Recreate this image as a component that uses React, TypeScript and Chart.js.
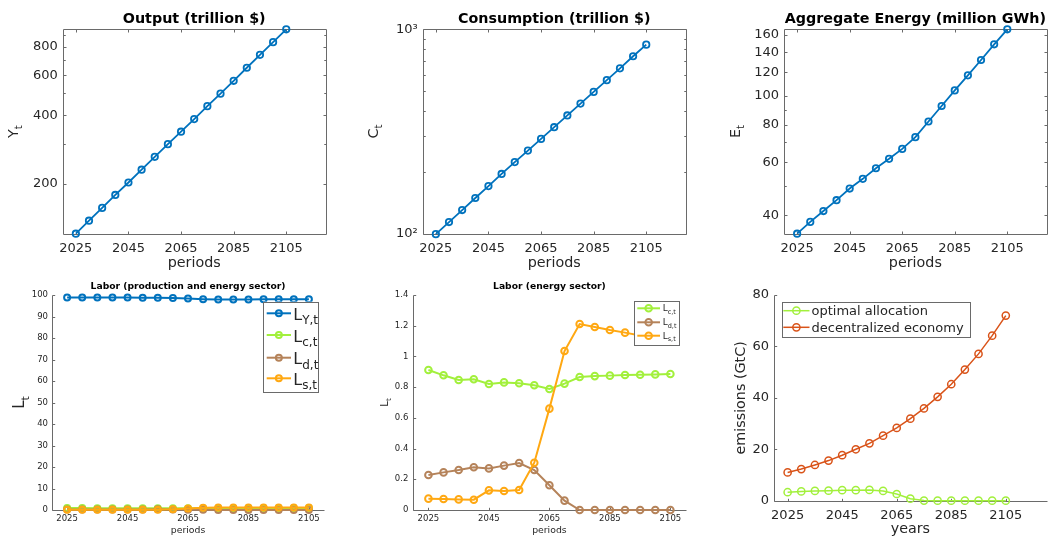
import React, { useEffect, useRef } from 'react';
import { Chart, registerables } from 'chart.js';

Chart.register(...registerables);

const W = 1052;
const H = 540;
const FONT = '"DejaVu Sans", sans-serif';
const AX = '#262626';
const AXLINE = '#6a6a6a';

// ---------- data ----------
const YEARS = [2025, 2030, 2035, 2040, 2045, 2050, 2055, 2060, 2065, 2070, 2075, 2080, 2085, 2090, 2095, 2100, 2105];
const X_TICKS = [2025, 2045, 2065, 2085, 2105];

const OUTPUT = [121, 138, 157, 179, 203, 231, 263, 299, 339, 385, 439, 498, 567, 647, 737, 838, 954];
const CONSUMPTION = [99.5, 114, 130.5, 149.5, 171, 196, 224, 255, 291, 332, 379, 433, 494, 564, 644, 738, 841];
const ENERGY = [34.7, 38.0, 41.3, 44.9, 49.1, 52.9, 57.4, 61.7, 66.6, 72.9, 82.2, 92.6, 104.4, 117.2, 131.9, 148.8, 167];

const L_Y = [98.79, 98.81, 98.82, 98.8, 98.78, 98.76, 98.74, 98.62, 98.39, 98.08, 97.92, 97.94, 97.95, 97.97, 97.98, 98.0, 98.01];
const L_C = [0.912, 0.877, 0.847, 0.851, 0.82, 0.831, 0.825, 0.812, 0.788, 0.823, 0.866, 0.872, 0.875, 0.879, 0.881, 0.883, 0.886];
const L_D = [0.228, 0.245, 0.26, 0.278, 0.271, 0.289, 0.306, 0.26, 0.161, 0.061, 0, 0, 0, 0, 0, 0, 0];
const L_S = [0.074, 0.072, 0.069, 0.067, 0.128, 0.124, 0.13, 0.308, 0.66, 1.035, 1.211, 1.192, 1.172, 1.155, 1.137, 1.122, 1.107];

const EM_OPTIMAL = [3.3, 3.6, 3.8, 3.9, 4.1, 4.1, 4.2, 3.8, 2.6, 0.8, 0.05, 0.02, 0.01, 0, 0, 0, 0];
const EM_DECENTRAL = [11.0, 12.3, 13.9, 15.6, 17.7, 20.0, 22.3, 25.3, 28.3, 31.9, 35.9, 40.4, 45.3, 51.0, 57.1, 64.2, 72.0];

const OUTPUT_TICKS = [200, 400, 600, 800];
const OUTPUT_MINOR = [300, 500, 700, 900];
const CONS_TICKS = [100, 1000];
const CONS_LABELS = ['10²', '10³'];
const CONS_MINOR = [200, 300, 400, 500, 600, 700, 800, 900];
const ENERGY_TICKS = [40, 60, 80, 100, 120, 140, 160];
const ENERGY_MINOR = [50, 70, 90];
const LAB_TICKS = [0, 10, 20, 30, 40, 50, 60, 70, 80, 90, 100];
const LABE_TICKS = [0, 0.2, 0.4, 0.6, 0.8, 1, 1.2, 1.4];
const EM_TICKS = [0, 20, 40, 60, 80];

const BLUE = '#0072BD';
const LIME = '#a2f03c';
const BROWN = '#b5835a';
const ORANGE = '#ffa812';
const RED = '#D95319';

// ---------- types ----------
type Area = { l: number; t: number; r: number; b: number };
type DS = { main: string; sub?: string; data: number[]; color: string; width: number; radius: number };
type Legend = { l: number; t: number; r: number; b: number; rows: number[]; x0: number; x1: number; tx: number; size: number; subSize: number; dy: number; subDy: number };
type Panel = {
  area: Area;
  xMin: number; xMax: number;
  yType: 'linear' | 'logarithmic';
  yMin: number; yMax: number;
  yTicks: number[]; yLabels: string[]; yMinor?: number[];
  box: boolean;
  tickFont: number; tickLen: number; xPad: number; yPad: number;
  title: string; titleSize: number; titleY: number;
  xlabel: string; labelSize: number; xlabelY: number;
  ylabel: [string, string]; ylabelSize: number; ylabelX: number;
  datasets: DS[];
  legend?: Legend;
};

function drawSub(ctx: CanvasRenderingContext2D, x: number, y: number, main: string, sub: string, size: number, subSize: number, subDy: number, align: 'left' | 'center', color: string) {
  ctx.fillStyle = color;
  ctx.textBaseline = 'alphabetic';
  ctx.textAlign = 'left';
  ctx.font = `${size}px ${FONT}`;
  const wm = ctx.measureText(main).width;
  ctx.font = `${subSize}px ${FONT}`;
  const ws = sub ? ctx.measureText(sub).width : 0;
  const x0 = align === 'center' ? x - (wm + ws) / 2 : x;
  ctx.font = `${size}px ${FONT}`;
  ctx.fillText(main, x0, y);
  if (sub) {
    ctx.font = `${subSize}px ${FONT}`;
    ctx.fillText(sub, x0 + wm, y + subDy);
  }
}

const crisp = (v: number) => Math.round(v) + 0.5;

function makePlugin(p: Panel) {
  return {
    id: 'matlabLook',
    beforeDatasetsDraw(chart: any) {
      const ctx: CanvasRenderingContext2D = chart.ctx;
      const { left, right, top, bottom } = chart.chartArea;
      const xs = chart.scales.x;
      const ys = chart.scales.y;
      ctx.save();
      ctx.strokeStyle = AXLINE;
      ctx.lineWidth = 1;
      ctx.beginPath();
      const L = crisp(left), R = crisp(right), T = crisp(top), B = crisp(bottom);
      ctx.moveTo(L, T); ctx.lineTo(L, B); ctx.lineTo(R, B);
      if (p.box) { ctx.lineTo(R, T); ctx.lineTo(L, T); }
      const tl = p.tickLen;
      X_TICKS.forEach((v) => {
        const px = crisp(xs.getPixelForValue(v));
        ctx.moveTo(px, B); ctx.lineTo(px, B - tl);
        if (p.box) { ctx.moveTo(px, T); ctx.lineTo(px, T + tl); }
      });
      const yAll = p.yTicks.concat(p.yMinor || []);
      yAll.forEach((v) => {
        if (v < p.yMin || v > p.yMax) return;
        const py = crisp(ys.getPixelForValue(v));
        const len = p.yTicks.includes(v) ? tl : tl * 0.75;
        ctx.moveTo(L, py); ctx.lineTo(L + len, py);
        if (p.box) { ctx.moveTo(R, py); ctx.lineTo(R - len, py); }
      });
      ctx.stroke();
      ctx.restore();
    },
    afterDatasetsDraw(chart: any) {
      const lg = p.legend;
      if (!lg) return;
      const ctx: CanvasRenderingContext2D = chart.ctx;
      ctx.save();
      ctx.fillStyle = '#ffffff';
      ctx.fillRect(lg.l, lg.t, lg.r - lg.l, lg.b - lg.t);
      ctx.strokeStyle = AXLINE;
      ctx.lineWidth = 1;
      ctx.strokeRect(crisp(lg.l), crisp(lg.t), Math.round(lg.r - lg.l), Math.round(lg.b - lg.t));
      p.datasets.forEach((d, i) => {
        const y = lg.rows[i];
        ctx.strokeStyle = d.color;
        ctx.lineWidth = d.width;
        ctx.beginPath();
        ctx.moveTo(lg.x0, y); ctx.lineTo(lg.x1, y);
        ctx.stroke();
        ctx.beginPath();
        ctx.arc((lg.x0 + lg.x1) / 2, y, d.radius, 0, Math.PI * 2);
        ctx.stroke();
        drawSub(ctx, lg.tx, y + lg.dy, d.main, d.sub || '', lg.size, lg.subSize, lg.subDy, 'left', AX);
      });
      ctx.restore();
    },
    afterDraw(chart: any) {
      const ctx: CanvasRenderingContext2D = chart.ctx;
      const { left, right, top, bottom } = chart.chartArea;
      const cx = (left + right) / 2;
      const cy = (top + bottom) / 2;
      ctx.save();
      ctx.textAlign = 'center';
      ctx.textBaseline = 'alphabetic';
      ctx.fillStyle = '#000';
      ctx.font = `bold ${p.titleSize}px ${FONT}`;
      if (p.title) ctx.fillText(p.title, cx, p.titleY);
      ctx.fillStyle = AX;
      ctx.font = `${p.labelSize}px ${FONT}`;
      ctx.fillText(p.xlabel, cx, p.xlabelY);
      ctx.translate(p.ylabelX, cy);
      ctx.rotate(-Math.PI / 2);
      const [m, s] = p.ylabel;
      drawSub(ctx, 0, 0, m, s, p.ylabelSize, s ? p.ylabelSize * 0.72 : 0, p.ylabelSize * 0.3, 'center', AX);
      ctx.restore();
    },
  };
}

function makeConfig(p: Panel): any {
  const n = p.datasets.length;
  return {
    type: 'line',
    data: {
      datasets: p.datasets.map((d, i) => ({
        label: d.sub ? `${d.main}_{${d.sub}}` : d.main,
        data: YEARS.map((yr, k) => ({ x: yr, y: d.data[k] })),
        borderColor: d.color,
        backgroundColor: 'rgba(0,0,0,0)',
        pointBackgroundColor: 'rgba(0,0,0,0)',
        pointBorderColor: d.color,
        borderWidth: d.width,
        pointBorderWidth: d.width,
        pointRadius: d.radius,
        pointHoverRadius: d.radius,
        tension: 0,
        fill: false,
        clip: false,
        order: n - 1 - i,
      })),
    },
    options: {
      responsive: false,
      animation: false,
      events: [],
      layout: { padding: { left: 0, top: p.area.t, right: W - p.area.r, bottom: 0 } },
      plugins: { legend: { display: false }, title: { display: false }, tooltip: { enabled: false } },
      scales: {
        x: {
          type: 'linear',
          min: p.xMin,
          max: p.xMax,
          bounds: 'data',
          afterBuildTicks: (s: any) => { s.ticks = X_TICKS.map((v) => ({ value: v })); },
          afterFit: (s: any) => { s.height = H - p.area.b; },
          ticks: {
            autoSkip: false, maxRotation: 0, minRotation: 0, padding: p.xPad,
            color: AX, font: { family: FONT, size: p.tickFont },
            callback: (v: any) => String(v),
          },
          grid: { display: false, drawTicks: false },
          border: { display: false },
        },
        y: {
          type: p.yType,
          min: p.yMin,
          max: p.yMax,
          bounds: 'data',
          afterBuildTicks: (s: any) => { s.ticks = p.yTicks.map((v) => ({ value: v })); },
          afterFit: (s: any) => { s.width = p.area.l; },
          ticks: {
            autoSkip: false, padding: p.yPad,
            color: AX, font: { family: FONT, size: p.tickFont },
            callback: (_v: any, i: number) => p.yLabels[i],
          },
          grid: { display: false, drawTicks: false },
          border: { display: false },
        },
      },
    },
    plugins: [makePlugin(p)],
  };
}

const TOP_AREA_T = 29.3;
const TOP_AREA_B = 233.7;

const PANELS: Panel[] = [
  {
    area: { l: 62.7, t: TOP_AREA_T, r: 325.7, b: TOP_AREA_B },
    xMin: 2020, xMax: 2120,
    yType: 'logarithmic', yMin: Math.min(...OUTPUT), yMax: Math.max(...OUTPUT),
    yTicks: OUTPUT_TICKS, yLabels: OUTPUT_TICKS.map(String), yMinor: OUTPUT_MINOR,
    box: true, tickFont: 13, tickLen: 3, xPad: 7, yPad: 5,
    title: 'Output (trillion $)', titleSize: 14.3, titleY: 22.5,
    xlabel: 'periods', labelSize: 14.3, xlabelY: 266.5,
    ylabel: ['Y', 't'], ylabelSize: 14.3, ylabelX: 18,
    datasets: [{ main: 'Y', data: OUTPUT, color: BLUE, width: 1.8, radius: 3.2 }],
  },
  {
    area: { l: 422.7, t: TOP_AREA_T, r: 685.7, b: TOP_AREA_B },
    xMin: 2020, xMax: 2120,
    yType: 'logarithmic', yMin: 100, yMax: 1000,
    yTicks: CONS_TICKS, yLabels: CONS_LABELS, yMinor: CONS_MINOR,
    box: true, tickFont: 13, tickLen: 3, xPad: 7, yPad: 5,
    title: 'Consumption (trillion $)', titleSize: 14.3, titleY: 22.5,
    xlabel: 'periods', labelSize: 14.3, xlabelY: 266.5,
    ylabel: ['C', 't'], ylabelSize: 14.3, ylabelX: 377.5,
    datasets: [{ main: 'C', data: CONSUMPTION, color: BLUE, width: 1.8, radius: 3.2 }],
  },
  {
    area: { l: 784, t: TOP_AREA_T, r: 1046.7, b: TOP_AREA_B },
    xMin: 2020, xMax: 2120,
    yType: 'logarithmic', yMin: Math.min(...ENERGY), yMax: Math.max(...ENERGY),
    yTicks: ENERGY_TICKS, yLabels: ENERGY_TICKS.map(String), yMinor: ENERGY_MINOR,
    box: true, tickFont: 13, tickLen: 3, xPad: 7, yPad: 5,
    title: 'Aggregate Energy (million GWh)', titleSize: 14.3, titleY: 22.5,
    xlabel: 'periods', labelSize: 14.3, xlabelY: 266.5,
    ylabel: ['E', 't'], ylabelSize: 14.3, ylabelX: 739.5,
    datasets: [{ main: 'E', data: ENERGY, color: BLUE, width: 1.8, radius: 3.2 }],
  },
  {
    area: { l: 52, t: 295, r: 324, b: 510 },
    xMin: 2020, xMax: 2110,
    yType: 'linear', yMin: 0, yMax: 100,
    yTicks: LAB_TICKS, yLabels: LAB_TICKS.map(String),
    box: false, tickFont: 8.5, tickLen: 2.7, xPad: 4, yPad: 4,
    title: 'Labor (production and energy sector)', titleSize: 9.2, titleY: 289,
    xlabel: 'periods', labelSize: 9.3, xlabelY: 532.5,
    ylabel: ['L', 't'], ylabelSize: 15, ylabelX: 24,
    datasets: [
      { main: 'L', sub: 'Y,t', data: L_Y, color: BLUE, width: 2, radius: 3 },
      { main: 'L', sub: 'c,t', data: L_C, color: LIME, width: 2, radius: 3 },
      { main: 'L', sub: 'd,t', data: L_D, color: BROWN, width: 2, radius: 3 },
      { main: 'L', sub: 's,t', data: L_S, color: ORANGE, width: 2, radius: 3 },
    ],
    legend: { l: 263.3, t: 301.7, r: 318.3, b: 391.7, rows: [313.3, 335, 357.7, 378.3], x0: 266.7, x1: 291, tx: 293.3, size: 16, subSize: 12, dy: 6.5, subDy: 4.5 },
  },
  {
    area: { l: 413.3, t: 295, r: 685.5, b: 510 },
    xMin: 2020, xMax: 2110,
    yType: 'linear', yMin: 0, yMax: 1.4,
    yTicks: LABE_TICKS, yLabels: LABE_TICKS.map(String),
    box: false, tickFont: 8.5, tickLen: 2.7, xPad: 4, yPad: 5,
    title: 'Labor (energy sector)', titleSize: 9.2, titleY: 289,
    xlabel: 'periods', labelSize: 9.3, xlabelY: 532.5,
    ylabel: ['L', 't'], ylabelSize: 10, ylabelX: 387.5,
    datasets: [
      { main: 'L', sub: 'c,t', data: L_C, color: LIME, width: 2, radius: 3.3 },
      { main: 'L', sub: 'd,t', data: L_D, color: BROWN, width: 2, radius: 3.3 },
      { main: 'L', sub: 's,t', data: L_S, color: ORANGE, width: 2, radius: 3.3 },
    ],
    legend: { l: 634, t: 301, r: 679, b: 344.7, rows: [308.3, 322.3, 335.7], x0: 637.3, x1: 660, tx: 662.7, size: 9, subSize: 6.5, dy: 3, subDy: 2.5 },
  },
  {
    area: { l: 774, t: 295, r: 1046.7, b: 500.7 },
    xMin: 2020, xMax: 2120,
    yType: 'linear', yMin: 0, yMax: 80,
    yTicks: EM_TICKS, yLabels: EM_TICKS.map(String),
    box: false, tickFont: 13, tickLen: 2.7, xPad: 7.5, yPad: 5,
    title: '', titleSize: 14.3, titleY: 289,
    xlabel: 'years', labelSize: 14.3, xlabelY: 533,
    ylabel: ['emissions (GtC)', ''], ylabelSize: 14.3, ylabelX: 744.5,
    datasets: [
      { main: 'optimal allocation', data: EM_OPTIMAL, color: LIME, width: 1.5, radius: 3.6 },
      { main: 'decentralized economy', data: EM_DECENTRAL, color: RED, width: 1.5, radius: 3.6 },
    ],
    legend: { l: 781.7, t: 301.7, r: 969.3, b: 336.7, rows: [310.7, 327.3], x0: 783.3, x1: 809.5, tx: 811.5, size: 13, subSize: 9, dy: 4.6, subDy: 3 },
  },
];

function PanelCanvas({ panel }: { panel: Panel }) {
  const ref = useRef<HTMLCanvasElement | null>(null);
  useEffect(() => {
    if (!ref.current) return;
    const chart = new Chart(ref.current, makeConfig(panel));
    return () => chart.destroy();
  }, [panel]);
  return (
    <canvas
      ref={ref}
      width={W}
      height={H}
      style={{ position: 'absolute', left: 0, top: 0, width: W, height: H }}
    />
  );
}

export default function App() {
  return (
    <div style={{ position: 'absolute', left: 0, top: 0, width: W, height: H, background: '#ffffff', overflow: 'hidden' }}>
      {PANELS.map((p, i) => (
        <PanelCanvas key={i} panel={p} />
      ))}
    </div>
  );
}
